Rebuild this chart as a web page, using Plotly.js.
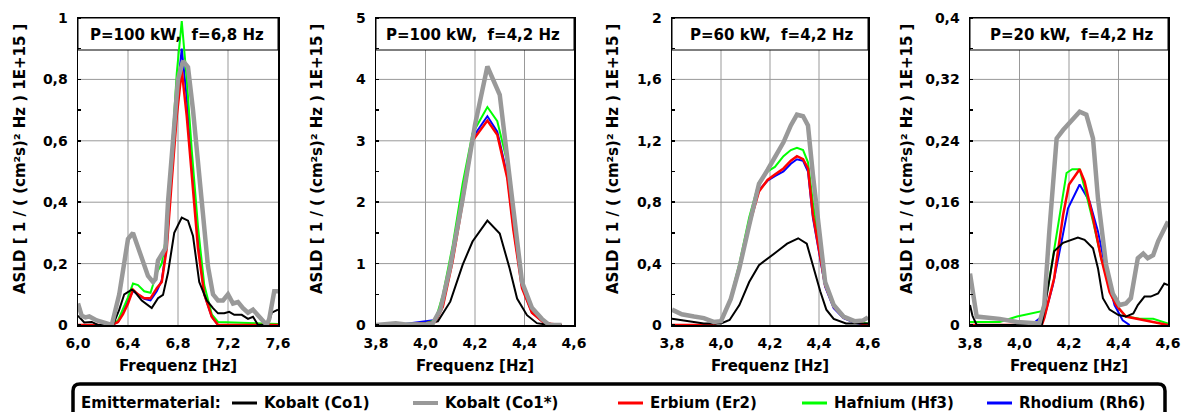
<!DOCTYPE html>
<html>
<head>
<meta charset="utf-8">
<script src="https://cdn.plot.ly/plotly-3.0.1.min.js"></script>
<style>html,body{margin:0;padding:0;background:#fff;}#chart{width:1192px;height:412px;}</style>
</head>
<body>
<div id="chart"></div>
<script>
// ---------------- DATA ----------------
const seriesNames = ["Kobalt (Co1)", "Kobalt (Co1*)", "Erbium (Er2)", "Hafnium (Hf3)", "Rhodium (Rh6)"];
const legendTitle = "Emittermaterial:";
const panelTitles = ["P=100 kW,  f=6,8 Hz", "P=100 kW,  f=4,2 Hz", "P=60 kW,  f=4,2 Hz", "P=20 kW,  f=4,2 Hz"];
const xTitle = "Frequenz [Hz]";
const yTitle = "ASLD [ 1 / ( (cm²s)² Hz ) 1E+15 ]";
const xRanges = [[6.0, 7.6], [3.8, 4.6], [3.8, 4.6], [3.8, 4.6]];
const yRanges = [[0, 1], [0, 5], [0, 2], [0, 0.4]];
const xTickVals = [[6.0, 6.4, 6.8, 7.2, 7.6], [3.8, 4.0, 4.2, 4.4, 4.6], [3.8, 4.0, 4.2, 4.4, 4.6], [3.8, 4.0, 4.2, 4.4, 4.6]];
const xTickText = [["6,0", "6,4", "6,8", "7,2", "7,6"], ["3,8", "4,0", "4,2", "4,4", "4,6"], ["3,8", "4,0", "4,2", "4,4", "4,6"], ["3,8", "4,0", "4,2", "4,4", "4,6"]];
const yTickVals = [[0, 0.2, 0.4, 0.6, 0.8, 1], [0, 1, 2, 3, 4, 5], [0, 0.4, 0.8, 1.2, 1.6, 2], [0, 0.08, 0.16, 0.24, 0.32, 0.4]];
const yTickText = [["0", "0,2", "0,4", "0,6", "0,8", "1"], ["0", "1", "2", "3", "4", "5"], ["0", "0,4", "0,8", "1,2", "1,6", "2"], ["0", "0,08", "0,16", "0,24", "0,32", "0,4"]];

// Panel 1: P=100 kW, f=6,8 Hz
const p1_co1_x = [6.00, 6.05, 6.11, 6.16, 6.28, 6.33, 6.37, 6.43, 6.45, 6.51, 6.59, 6.64, 6.68, 6.72, 6.77, 6.83, 6.88, 6.92, 6.97, 7.03, 7.08, 7.12, 7.17, 7.21, 7.25, 7.31, 7.36, 7.40, 7.44, 7.52, 7.55, 7.60];
const p1_co1_y = [0.03, 0.008, 0.01, 0, 0, 0.05, 0.10, 0.115, 0.11, 0.08, 0.055, 0.087, 0.098, 0.17, 0.30, 0.35, 0.34, 0.29, 0.14, 0.08, 0.055, 0.038, 0.038, 0.043, 0.033, 0.033, 0.02, 0.027, 0, 0, 0.04, 0.05];
const p1_co1s_x = [6.00, 6.03, 6.06, 6.09, 6.15, 6.27, 6.33, 6.38, 6.40, 6.44, 6.48, 6.52, 6.56, 6.60, 6.62, 6.64, 6.68, 6.70, 6.72, 6.76, 6.80, 6.84, 6.88, 6.92, 6.96, 7.00, 7.04, 7.08, 7.12, 7.16, 7.20, 7.24, 7.28, 7.32, 7.36, 7.40, 7.44, 7.48, 7.51, 7.53, 7.57, 7.60];
const p1_co1s_y = [0.07, 0.03, 0.025, 0.028, 0.015, 0, 0.10, 0.24, 0.28, 0.30, 0.25, 0.20, 0.16, 0.14, 0.15, 0.21, 0.235, 0.25, 0.40, 0.62, 0.80, 0.86, 0.84, 0.70, 0.53, 0.34, 0.19, 0.10, 0.08, 0.08, 0.10, 0.07, 0.075, 0.055, 0.04, 0.05, 0.03, 0.015, 0, 0.02, 0.11, 0.11];
const p1_er2_x = [6.00, 6.27, 6.32, 6.36, 6.40, 6.44, 6.48, 6.53, 6.58, 6.63, 6.67, 6.71, 6.75, 6.79, 6.83, 6.87, 6.91, 6.96, 7.01, 7.07, 7.12, 7.60];
const p1_er2_y = [0, 0, 0.01, 0.035, 0.07, 0.115, 0.10, 0.087, 0.087, 0.12, 0.14, 0.25, 0.47, 0.68, 0.83, 0.68, 0.49, 0.25, 0.10, 0.027, 0, 0];
const p1_hf3_x = [6.00, 6.27, 6.32, 6.36, 6.40, 6.44, 6.48, 6.53, 6.58, 6.63, 6.67, 6.71, 6.75, 6.79, 6.83, 6.87, 6.91, 6.96, 7.01, 7.07, 7.12, 7.60];
const p1_hf3_y = [0, 0, 0.015, 0.05, 0.09, 0.135, 0.13, 0.11, 0.105, 0.17, 0.20, 0.30, 0.56, 0.82, 0.99, 0.80, 0.57, 0.32, 0.13, 0.035, 0.01, 0.003];
const p1_rh6_x = [6.00, 6.27, 6.32, 6.36, 6.40, 6.44, 6.48, 6.53, 6.58, 6.63, 6.67, 6.71, 6.75, 6.79, 6.83, 6.87, 6.91, 6.96, 7.01, 7.07, 7.12, 7.60];
const p1_rh6_y = [0, 0, 0.01, 0.04, 0.08, 0.11, 0.10, 0.085, 0.08, 0.11, 0.145, 0.26, 0.50, 0.74, 0.90, 0.74, 0.52, 0.27, 0.10, 0.027, 0, 0];

// Panel 2: P=100 kW, f=4,2 Hz
const p2_co1_x = [3.80, 3.85, 3.88, 3.92, 4.00, 4.05, 4.10, 4.15, 4.19, 4.25, 4.30, 4.34, 4.37, 4.41, 4.45, 4.50, 4.55];
const p2_co1_y = [0, 0.01, 0.03, 0, 0.03, 0.06, 0.38, 0.98, 1.36, 1.70, 1.49, 0.92, 0.43, 0.16, 0.03, 0, 0];
const p2_co1s_x = [3.80, 3.85, 3.88, 3.92, 4.00, 4.03, 4.06, 4.10, 4.15, 4.20, 4.25, 4.30, 4.35, 4.39, 4.43, 4.47, 4.50, 4.55];
const p2_co1s_y = [0, 0.01, 0.03, 0.01, 0.01, 0.03, 0.25, 0.95, 2.05, 3.26, 4.21, 3.75, 2.10, 0.70, 0.28, 0.10, 0, 0];
const p2_er2_x = [3.80, 3.90, 4.00, 4.04, 4.07, 4.11, 4.15, 4.19, 4.25, 4.29, 4.33, 4.355, 4.39, 4.43, 4.48, 4.55];
const p2_er2_y = [0, 0.005, 0.03, 0.05, 0.30, 1.05, 2.00, 3.00, 3.33, 3.10, 2.40, 1.55, 0.60, 0.20, 0.03, 0];
const p2_hf3_x = [3.80, 3.90, 4.00, 4.04, 4.07, 4.11, 4.15, 4.19, 4.25, 4.29, 4.33, 4.355, 4.39, 4.43, 4.48, 4.55];
const p2_hf3_y = [0, 0.01, 0.03, 0.08, 0.49, 1.30, 2.30, 3.12, 3.55, 3.32, 2.66, 1.79, 0.70, 0.22, 0.03, 0];
const p2_rh6_x = [3.80, 3.90, 4.00, 4.04, 4.07, 4.11, 4.15, 4.19, 4.25, 4.29, 4.33, 4.355, 4.39, 4.43, 4.48, 4.55];
const p2_rh6_y = [0, 0.01, 0.06, 0.08, 0.35, 1.10, 2.05, 3.05, 3.40, 3.15, 2.45, 1.60, 0.62, 0.20, 0.03, 0];

// Panel 3: P=60 kW, f=4,2 Hz
const p3_co1_x = [3.80, 3.87, 3.93, 4.00, 4.035, 4.075, 4.115, 4.155, 4.19, 4.23, 4.27, 4.315, 4.35, 4.375, 4.405, 4.43, 4.46, 4.51, 4.60];
const p3_co1_y = [0.04, 0.026, 0.01, 0.01, 0.033, 0.13, 0.28, 0.39, 0.43, 0.48, 0.53, 0.565, 0.53, 0.39, 0.22, 0.10, 0.04, 0.01, 0.01];
const p3_co1s_x = [3.80, 3.84, 3.89, 3.93, 3.97, 4.00, 4.04, 4.075, 4.115, 4.155, 4.19, 4.22, 4.255, 4.285, 4.31, 4.335, 4.355, 4.375, 4.40, 4.425, 4.46, 4.50, 4.545, 4.58, 4.60];
const p3_co1s_y = [0.10, 0.07, 0.055, 0.045, 0.02, 0.025, 0.17, 0.37, 0.65, 0.92, 1.01, 1.09, 1.19, 1.30, 1.37, 1.36, 1.30, 0.98, 0.61, 0.28, 0.13, 0.055, 0.025, 0.03, 0.05];
const p3_er2_x = [3.80, 3.90, 3.95, 4.00, 4.04, 4.075, 4.115, 4.155, 4.19, 4.22, 4.255, 4.285, 4.31, 4.335, 4.355, 4.375, 4.40, 4.425, 4.46, 4.50, 4.545, 4.60];
const p3_er2_y = [0, 0, 0, 0.02, 0.17, 0.38, 0.65, 0.87, 0.945, 0.98, 1.02, 1.07, 1.10, 1.08, 1.02, 0.72, 0.50, 0.26, 0.12, 0.05, 0.02, 0];
const p3_hf3_x = [3.80, 3.90, 3.95, 4.00, 4.04, 4.075, 4.115, 4.155, 4.19, 4.22, 4.255, 4.285, 4.31, 4.335, 4.355, 4.375, 4.40, 4.425, 4.46, 4.50, 4.545, 4.60];
const p3_hf3_y = [0, 0, 0, 0.02, 0.18, 0.40, 0.70, 0.93, 1.00, 1.03, 1.10, 1.14, 1.155, 1.14, 1.06, 0.80, 0.55, 0.27, 0.12, 0.05, 0.02, 0.01];
const p3_rh6_x = [3.80, 3.90, 3.95, 4.00, 4.04, 4.075, 4.115, 4.155, 4.19, 4.22, 4.255, 4.285, 4.31, 4.335, 4.355, 4.375, 4.40, 4.425, 4.46, 4.50, 4.545, 4.60];
const p3_rh6_y = [0, 0, 0, 0.02, 0.17, 0.38, 0.65, 0.88, 0.94, 0.97, 1.00, 1.05, 1.08, 1.07, 1.00, 0.70, 0.48, 0.25, 0.11, 0.045, 0.015, 0];

// Panel 4: P=20 kW, f=4,2 Hz
const p4_co1_x = [3.80, 3.81, 3.827, 4.09, 4.115, 4.14, 4.176, 4.216, 4.236, 4.263, 4.297, 4.317, 4.337, 4.364, 4.40, 4.43, 4.46, 4.478, 4.505, 4.53, 4.56, 4.585, 4.60];
const p4_co1_y = [0.026, 0.012, 0, 0, 0.048, 0.096, 0.107, 0.112, 0.114, 0.111, 0.10, 0.074, 0.035, 0.02, 0.013, 0.011, 0.015, 0.026, 0.037, 0.037, 0.041, 0.054, 0.052];
const p4_co1s_x = [3.80, 3.81, 3.827, 3.92, 3.99, 4.08, 4.10, 4.12, 4.15, 4.176, 4.243, 4.27, 4.297, 4.317, 4.35, 4.377, 4.404, 4.43, 4.45, 4.478, 4.50, 4.518, 4.54, 4.56, 4.58, 4.60];
const p4_co1s_y = [0.067, 0.043, 0.011, 0.008, 0.004, 0.002, 0.026, 0.12, 0.243, 0.254, 0.278, 0.274, 0.243, 0.165, 0.078, 0.041, 0.026, 0.028, 0.035, 0.087, 0.093, 0.087, 0.091, 0.109, 0.122, 0.135];
const p4_er2_x = [3.80, 4.09, 4.10, 4.14, 4.176, 4.20, 4.243, 4.263, 4.297, 4.33, 4.364, 4.39, 4.43, 4.50, 4.60];
const p4_er2_y = [0, 0, 0.009, 0.061, 0.143, 0.183, 0.203, 0.187, 0.139, 0.087, 0.043, 0.026, 0.011, 0.0065, 0];
const p4_hf3_x = [3.80, 3.92, 3.99, 4.09, 4.115, 4.15, 4.19, 4.213, 4.243, 4.27, 4.297, 4.33, 4.364, 4.40, 4.43, 4.485, 4.54, 4.60];
const p4_hf3_y = [0.004, 0.004, 0.011, 0.018, 0.048, 0.117, 0.198, 0.203, 0.203, 0.17, 0.135, 0.087, 0.05, 0.022, 0.011, 0.008, 0.008, 0.002];
const p4_rh6_x = [3.80, 4.04, 4.055, 4.082, 4.10, 4.135, 4.17, 4.196, 4.243, 4.283, 4.317, 4.35, 4.384, 4.417, 4.445];
const p4_rh6_y = [0, 0, 0.002, 0.009, 0.01, 0.052, 0.109, 0.152, 0.183, 0.161, 0.122, 0.07, 0.026, 0.006, 0];

// ---------------- STYLE / LAYOUT ----------------
const W = 1192, H = 412;
const FONT = "DejaVu Sans, Liberation Sans, Arial, sans-serif";
const seriesColors = ["#000000", "#999999", "#ff0000", "#00ff00", "#0000ff"];
const seriesWidths = [2, 4.5, 2.5, 2, 2];
const drawOrder = [4, 3, 2, 0, 1]; // Rh6, Hf3, Er2, Co1, Co1*

const panelData = [
  [[p1_co1_x, p1_co1_y], [p1_co1s_x, p1_co1s_y], [p1_er2_x, p1_er2_y], [p1_hf3_x, p1_hf3_y], [p1_rh6_x, p1_rh6_y]],
  [[p2_co1_x, p2_co1_y], [p2_co1s_x, p2_co1s_y], [p2_er2_x, p2_er2_y], [p2_hf3_x, p2_hf3_y], [p2_rh6_x, p2_rh6_y]],
  [[p3_co1_x, p3_co1_y], [p3_co1s_x, p3_co1s_y], [p3_er2_x, p3_er2_y], [p3_hf3_x, p3_hf3_y], [p3_rh6_x, p3_rh6_y]],
  [[p4_co1_x, p4_co1_y], [p4_co1s_x, p4_co1s_y], [p4_er2_x, p4_er2_y], [p4_hf3_x, p4_hf3_y], [p4_rh6_x, p4_rh6_y]]
];

const plotLeft = [78, 376, 672, 970];
const plotRight = [278, 574, 868, 1168];
const yTitleX = [20, 317, 613, 907];
const plotTop = 18, plotBottom = 325;
const boxFrac = 1 - 32 / (plotBottom - plotTop); // bottom of title box in domain units
const px = v => v / W;
const py = v => 1 - v / H;
const bold = (size) => ({family: FONT, size: size, color: "#000", weight: "bold"});

const traces = [];
const layout = {
  width: W, height: H,
  margin: {l: 0, r: 0, t: 0, b: 0},
  paper_bgcolor: "#ffffff", plot_bgcolor: "#ffffff",
  showlegend: false,
  separators: ",.",
  font: {family: FONT, size: 15, color: "#000"},
  shapes: [], annotations: []
};

for (let p = 0; p < 4; p++) {
  const xa = p === 0 ? "x" : "x" + (p + 1);
  const ya = p === 0 ? "y" : "y" + (p + 1);
  const xk = p === 0 ? "xaxis" : "xaxis" + (p + 1);
  const yk = p === 0 ? "yaxis" : "yaxis" + (p + 1);
  const ydTick = yTickVals[p][1] - yTickVals[p][0];
  layout[xk] = {
    domain: [px(plotLeft[p]), px(plotRight[p])], anchor: ya,
    range: xRanges[p], tickmode: "array", tickvals: xTickVals[p], ticktext: xTickText[p],
    showgrid: false,
    showline: true, linecolor: "#000", linewidth: 1.5, mirror: true,
    ticks: "", ticklabelstandoff: 5, zeroline: false, fixedrange: true,
    tickfont: bold(14)
  };
  layout[yk] = {
    domain: [py(plotBottom), py(plotTop)], anchor: xa,
    range: yRanges[p], tickmode: "array", tickvals: yTickVals[p], ticktext: yTickText[p],
    showgrid: false,
    showline: true, linecolor: "#000", linewidth: 1.5, mirror: true,
    ticks: "", ticklabelstandoff: 6, zeroline: false, fixedrange: true,
    tickfont: bold(14),
    minor: {dtick: ydTick / 2, tick0: 0, ticks: "inside", ticklen: 3, tickcolor: "#000", tickwidth: 1.5, showgrid: false}
  };
  // gridlines (stop at the title box)
  const xr = xRanges[p], yr = yRanges[p];
  for (const v of xTickVals[p]) {
    if (v <= xr[0] + 1e-9 || v >= xr[1] - 1e-9) continue;
    layout.shapes.push({type: "line", xref: xa, yref: ya + " domain", x0: v, x1: v, y0: 0, y1: boxFrac,
      line: {color: "#999999", width: 1}, layer: "below"});
  }
  for (const v of yTickVals[p]) {
    const f = (v - yr[0]) / (yr[1] - yr[0]);
    if (f <= 1e-9 || f >= boxFrac) continue;
    layout.shapes.push({type: "line", xref: xa + " domain", yref: ya, x0: 0, x1: 1, y0: v, y1: v,
      line: {color: "#999999", width: 1}, layer: "below"});
  }
  for (const s of drawOrder) {
    const [xs, ys] = panelData[p][s];
    traces.push({
      type: "scatter", mode: "lines", x: xs, y: ys, xaxis: xa, yaxis: ya,
      name: seriesNames[s], line: {color: seriesColors[s], width: seriesWidths[s]},
      hoverinfo: "skip"
    });
  }
  // title box inside plot
  layout.shapes.push({
    type: "rect", xref: xa + " domain", yref: ya + " domain",
    x0: 0, x1: 1, y0: boxFrac, y1: 1,
    fillcolor: "#ffffff", line: {color: "#000", width: 1}, layer: "below"
  });
  layout.annotations.push({
    xref: xa + " domain", yref: "paper", x: 1, y: py(35), xanchor: "right", yanchor: "middle", xshift: -12,
    text: panelTitles[p], showarrow: false, font: bold(15)
  });
  // axis titles
  layout.annotations.push({
    xref: "paper", yref: "paper", x: px((plotLeft[p] + plotRight[p]) / 2), y: py(366),
    xanchor: "center", yanchor: "middle", text: xTitle, showarrow: false, font: bold(15)
  });
  layout.annotations.push({
    xref: "paper", yref: "paper", x: px(yTitleX[p]), y: py(159), textangle: -90,
    xanchor: "center", yanchor: "middle", text: yTitle, showarrow: false, font: bold(15)
  });
}

// ---------------- LEGEND (manual, fixed positions) ----------------
const legLeft = 73, legRight = 1165, legTop = 384, legY = 403;
const r = 7;
layout.shapes.push({
  type: "path", xref: "paper", yref: "paper",
  path: `M ${px(legLeft)},${py(H + 20)} L ${px(legLeft)},${py(legTop + r)} Q ${px(legLeft)},${py(legTop)} ${px(legLeft + r)},${py(legTop)} L ${px(legRight - r)},${py(legTop)} Q ${px(legRight)},${py(legTop)} ${px(legRight)},${py(legTop + r)} L ${px(legRight)},${py(H + 20)}`,
  line: {color: "#000", width: 3.5}
});
layout.annotations.push({
  xref: "paper", yref: "paper", x: px(79), y: py(legY), xanchor: "left", yanchor: "middle",
  text: legendTitle, showarrow: false, font: bold(15)
});
const legLineX = [232, 413, 618, 802, 987];
for (let s = 0; s < 5; s++) {
  layout.shapes.push({
    type: "line", xref: "paper", yref: "paper",
    x0: px(legLineX[s]), x1: px(legLineX[s] + 25), y0: py(legY), y1: py(legY),
    line: {color: seriesColors[s], width: s === 1 ? 4 : 3}
  });
  layout.annotations.push({
    xref: "paper", yref: "paper", x: px(legLineX[s] + 30), y: py(legY), xanchor: "left", yanchor: "middle",
    text: seriesNames[s], showarrow: false, font: bold(15)
  });
}

Plotly.newPlot("chart", traces, layout, {displayModeBar: false, staticPlot: true});
</script>
</body>
</html>
